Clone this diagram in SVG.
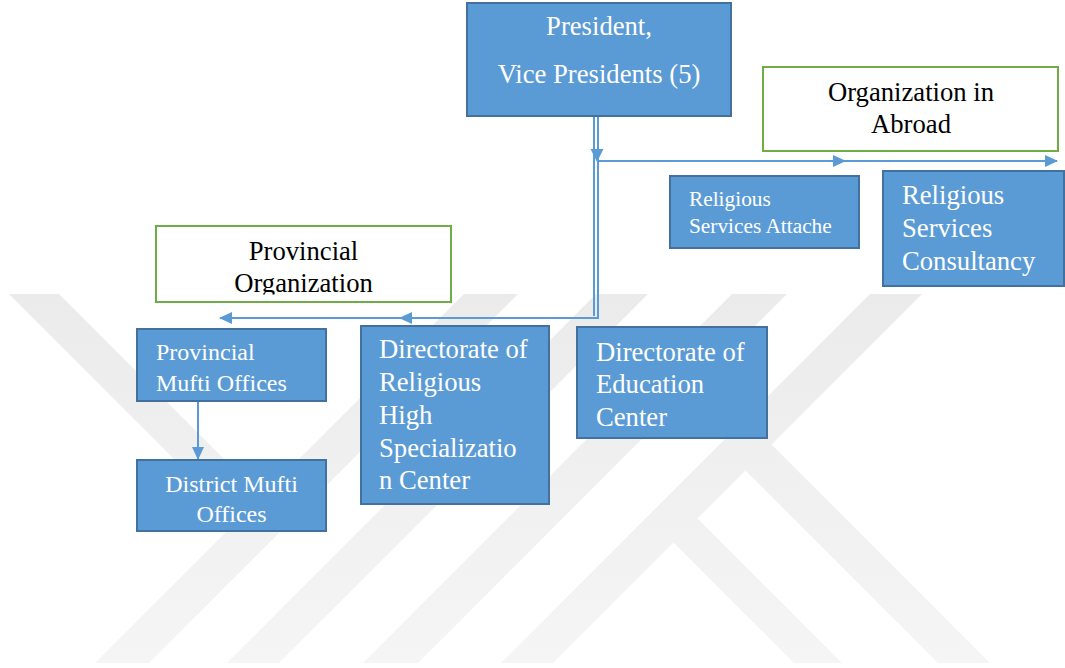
<svg xmlns="http://www.w3.org/2000/svg" width="1065" height="668" viewBox="0 0 1065 668">
  <defs>
    <style>
      .node { fill: #5b9bd5; stroke: #41719c; stroke-width: 2; }
      .group-box { fill: #ffffff; stroke: #70ad47; stroke-width: 2; }
      .lbl { fill: #ffffff; }
      .dark { fill: #000000; }
      .big { font-size: 26.67px; }
      .mid { font-size: 24px; }
      .small { font-size: 21.33px; }
      .conn { fill: none; stroke: #5b9bd5; stroke-width: 2; }
      .mark { fill: #5b9bd5; }
    </style>
    <linearGradient id="wmFade" x1="0" y1="294" x2="0" y2="663" gradientUnits="userSpaceOnUse">
      <stop offset="0" stop-color="#ebebeb"/>
      <stop offset="1" stop-color="#f5f5f5"/>
    </linearGradient>
    <marker id="arrow" viewBox="0 0 13 12" markerWidth="13" markerHeight="12" refX="12" refY="6" orient="auto" markerUnits="userSpaceOnUse">
      <path d="M0,0 L13,6 L0,12 z" class="mark"/>
    </marker>
    <clipPath id="provClip">
      <rect x="157" y="227" width="293" height="67.5"/>
    </clipPath>
  </defs>

  <rect width="1065" height="668" fill="#ffffff"/>

  <!-- faint background emblem -->
  <g id="emblem" fill="url(#wmFade)">
    <polygon points="9,294 59,294 277.5,512.5 252.5,537.5"/>
    <polygon points="464,294 518,294 149,663 95,663"/>
    <polygon points="596,294 648,294 279,663 227,663"/>
    <polygon points="732,294 787,294 418,663 363,663"/>
    <polygon points="870,294 922,294 553,663 501,663"/>
    <polygon points="660.5,529.5 684.5,505.5 842,663 794,663"/>
    <polygon points="732.5,457.5 758.5,431.5 990,663 938,663"/>
  </g>

  <!-- connectors -->
  <g id="connectors">
    <path class="conn" d="M598,116 V318 H400" marker-end="url(#arrow)"/>
    <path class="conn" d="M594,116 V316" stroke-width="1.5"/>
    <path class="conn" d="M400,318 H220" marker-end="url(#arrow)"/>
    <polygon class="mark" points="590.5,149 603.5,149 597,162"/>
    <path class="conn" d="M597,161 H845" marker-end="url(#arrow)"/>
    <path class="conn" d="M845,161 H1057" stroke-width="1.5" marker-end="url(#arrow)"/>
    <path class="conn" d="M198,401 V459" marker-end="url(#arrow)"/>
  </g>

  <g font-family="'Liberation Serif', Tinos, 'Times New Roman', 'Nimbus Roman', 'DejaVu Serif', serif">
    <g id="president">
      <rect class="node" x="467" y="3" width="264" height="113"/>
      <text class="lbl big" x="599" y="35" text-anchor="middle">President,</text>
      <text class="lbl big" x="599" y="83" text-anchor="middle">Vice Presidents (5)</text>
    </g>

    <g id="abroad">
      <rect class="group-box" x="763" y="67" width="295" height="84"/>
      <text class="dark big" x="911" y="101" text-anchor="middle">Organization in</text>
      <text class="dark big" x="911" y="133" text-anchor="middle">Abroad</text>
    </g>

    <g id="attache">
      <rect class="node" x="670" y="176" width="189" height="72"/>
      <text class="lbl small" x="689" y="206">Religious</text>
      <text class="lbl small" x="689" y="233">Services Attache</text>
    </g>

    <g id="consultancy">
      <rect class="node" x="883" y="171" width="181" height="115"/>
      <text class="lbl big" x="902" y="204">Religious</text>
      <text class="lbl big" x="902" y="237">Services</text>
      <text class="lbl big" x="902" y="270">Consultancy</text>
    </g>

    <g id="provincial-org">
      <rect class="group-box" x="156" y="226" width="295" height="76"/>
      <g clip-path="url(#provClip)">
        <text class="dark big" x="303.5" y="260" text-anchor="middle">Provincial</text>
        <text class="dark big" x="303.5" y="292" text-anchor="middle">Organization</text>
      </g>
    </g>

    <g id="provincial-mufti">
      <rect class="node" x="137" y="329" width="189" height="72"/>
      <text class="lbl mid" x="156" y="360">Provincial</text>
      <text class="lbl mid" x="156" y="391">Mufti Offices</text>
    </g>

    <g id="district-mufti">
      <rect class="node" x="137" y="460" width="189" height="71"/>
      <text class="lbl mid" x="231.5" y="492" text-anchor="middle">District Mufti</text>
      <text class="lbl mid" x="231.5" y="522" text-anchor="middle">Offices</text>
    </g>

    <g id="high-specialization">
      <rect class="node" x="361" y="326" width="188" height="178"/>
      <text class="lbl big" x="379" y="358">Directorate of</text>
      <text class="lbl big" x="379" y="391">Religious</text>
      <text class="lbl big" x="379" y="424">High</text>
      <text class="lbl big" x="379" y="457">Specializatio</text>
      <text class="lbl big" x="379" y="489">n Center</text>
    </g>

    <g id="education-center">
      <rect class="node" x="577" y="327" width="190" height="111"/>
      <text class="lbl big" x="596" y="361">Directorate of</text>
      <text class="lbl big" x="596" y="393">Education</text>
      <text class="lbl big" x="596" y="426">Center</text>
    </g>
  </g>
</svg>
